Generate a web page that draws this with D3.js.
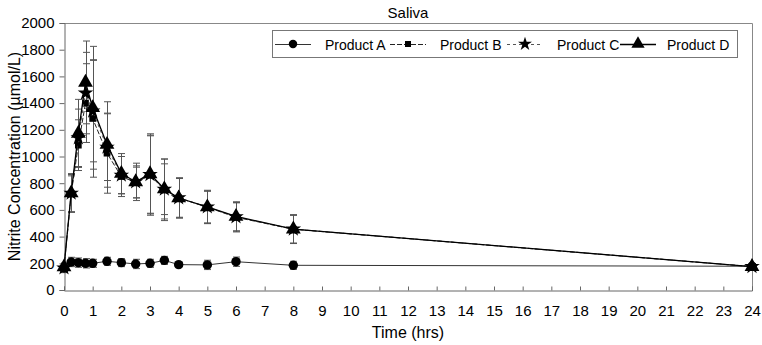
<!DOCTYPE html>
<html>
  <head>
    <meta charset="utf-8">
    <title>Saliva</title>
    <script src="https://d3js.org/d3.v7.min.js"></script>
    <style>
      body { margin: 0; background: #fff; }
      svg { font-family: "Liberation Sans", Arial, sans-serif; }
    </style>
  </head>
  <body>
    <svg id="chart" width="762" height="345"></svg>
    <script>
      // data
      times = [0, 0.25, 0.5, 0.75, 1, 1.5, 2, 2.5, 3, 3.5, 4, 5, 6, 8, 24];
      productA = [165, 210, 205, 200, 200, 215, 205, 195, 200, 222, 190, 188, 212, 185, 178];
      productASd = [25, 35, 35, 35, 30, 30, 30, 35, 30, 30, 15, 35, 35, 30, 20];
      productB = [160, 720, 1085, 1400, 1285, 1025, 850, 805, 860, 750, 690, 620, 545, 455, 175];
      productBSd = [30, 135, 190, 295, 440, 300, 150, 115, 300, 230, 150, 120, 110, 105, 20];
      productC = [165, 725, 1140, 1475, 1340, 1070, 860, 810, 865, 755, 690, 622, 548, 456, 175];
      productCSd = [30, 140, 215, 305, 380, 250, 140, 120, 290, 190, 145, 120, 105, 105, 20];
      productD = [172, 727, 1173, 1555, 1365, 1090, 872, 810, 870, 757, 689, 622, 551, 456, 175];
      productDSd = [30, 145, 255, 310, 460, 320, 150, 140, 300, 225, 150, 125, 110, 108, 20];
      xTicks = d3.range(0, 25, 1);
      yTicks = d3.range(0, 2001, 200);

      svg = d3.select("#chart");
      left = 64; right = 752; top_ = 23; bottom = 290;

      x = d3.scaleLinear().domain([0, 24]).range([left, right]);
      y = d3.scaleLinear().domain([0, 2000]).range([bottom, top_]);

      // plot frame (top and right)
      svg.append("path")
        .attr("d", "M" + left + "," + (top_ + 0.5) + "H" + (right + 0.5) + "V" + bottom)
        .attr("fill", "none")
        .attr("stroke", "#888")
        .attr("stroke-width", 1);

      // axes
      yAxis = svg.append("g")
        .attr("transform", "translate(" + (left + 0.5) + ",0)")
        .call(d3.axisLeft(y).tickValues(yTicks).tickSize(5).tickFormat(d3.format("d")).tickPadding(5));
      xAxis = svg.append("g")
        .attr("transform", "translate(0," + (bottom + 0.5) + ")")
        .call(d3.axisBottom(x).tickValues(xTicks).tickSize(-4).tickPadding(15));
      svg.selectAll(".domain, .tick line").attr("stroke", "#666");
      svg.selectAll(".tick text")
        .attr("fill", "#000")
        .style("font-size", "15px")
        .style("font-family", "Liberation Sans, Arial, sans-serif");

      // titles
      svg.append("text")
        .attr("x", 408).attr("y", 18)
        .attr("text-anchor", "middle")
        .style("font-size", "15px")
        .text("Saliva");
      svg.append("text")
        .attr("x", x(12)).attr("y", 338)
        .attr("text-anchor", "middle")
        .style("font-size", "16px")
        .text("Time (hrs)");
      svg.append("text")
        .attr("transform", "translate(20," + y(1000) + ") rotate(-90)")
        .attr("text-anchor", "middle")
        .style("font-size", "16px")
        .text("Nitrite Concentration (µmol/L)");

      series = [
        { name: "Product A", values: productA, sd: productASd, symbol: d3.symbolCircle, size: 70, dash: null, stroke: "#333", width: 1 },
        { name: "Product B", values: productB, sd: productBSd, symbol: d3.symbolSquare, size: 45, dash: "5,2", stroke: "#222", width: 1 },
        { name: "Product C", values: productC, sd: productCSd, symbol: d3.symbolStar, size: 75, dash: "3,3", stroke: "#555", width: 1 },
        { name: "Product D", values: productD, sd: productDSd, symbol: d3.symbolTriangle, size: 95, dash: null, stroke: "#000", width: 1.3 }
      ];

      line = d3.line()
        .x(function(d) { return x(d.t); })
        .y(function(d) { return y(d.v); });

      series.forEach(function(s) {
        s.points = times.map(function(t, i) { return { t: t, v: s.values[i], sd: s.sd[i] }; });
      });

      // error bars
      series.forEach(function(s) {
        g = svg.append("g").attr("stroke", "#555").attr("stroke-width", 1);
        s.points.forEach(function(p) {
          px = Math.round(x(p.t)) + 0.5;
          g.append("line").attr("x1", px).attr("x2", px).attr("y1", y(p.v + p.sd)).attr("y2", y(p.v - p.sd));
          g.append("line").attr("x1", px - 3.5).attr("x2", px + 3.5).attr("y1", y(p.v + p.sd)).attr("y2", y(p.v + p.sd));
          g.append("line").attr("x1", px - 3.5).attr("x2", px + 3.5).attr("y1", y(p.v - p.sd)).attr("y2", y(p.v - p.sd));
        });
      });

      // lines and markers
      series.forEach(function(s) {
        svg.append("path")
          .datum(s.points)
          .attr("d", line)
          .attr("fill", "none")
          .attr("stroke", s.stroke)
          .attr("stroke-width", s.width)
          .attr("stroke-dasharray", s.dash);
        svg.append("g")
          .selectAll("path")
          .data(s.points)
          .enter().append("path")
            .attr("transform", function(d) { return "translate(" + x(d.t) + "," + y(d.v) + ")"; })
            .attr("d", d3.symbol().type(s.symbol).size(s.size))
            .attr("fill", "#000");
      });

      // legend
      legend = svg.append("g");
      legend.append("rect")
        .attr("x", 272.5).attr("y", 30.5)
        .attr("width", 465).attr("height", 27)
        .attr("fill", "#fff")
        .attr("stroke", "#777");
      legendLine = [275, 390, 507, 620];
      legendLabel = [325, 440, 557, 667];
      series.forEach(function(s, i) {
        lx = legendLine[i];
        legend.append("line")
          .attr("x1", lx).attr("x2", lx + 36)
          .attr("y1", 44.5).attr("y2", 44.5)
          .attr("stroke", s.stroke)
          .attr("stroke-width", s.width)
          .attr("stroke-dasharray", s.dash);
        legend.append("path")
          .attr("transform", "translate(" + (lx + 18) + ",44)")
          .attr("d", d3.symbol().type(s.symbol).size(s.size * 0.8))
          .attr("fill", "#000");
        legend.append("text")
          .attr("x", legendLabel[i]).attr("y", 49.5)
          .style("font-size", "14px")
          .text(s.name);
      });
    </script>
  </body>
</html>
